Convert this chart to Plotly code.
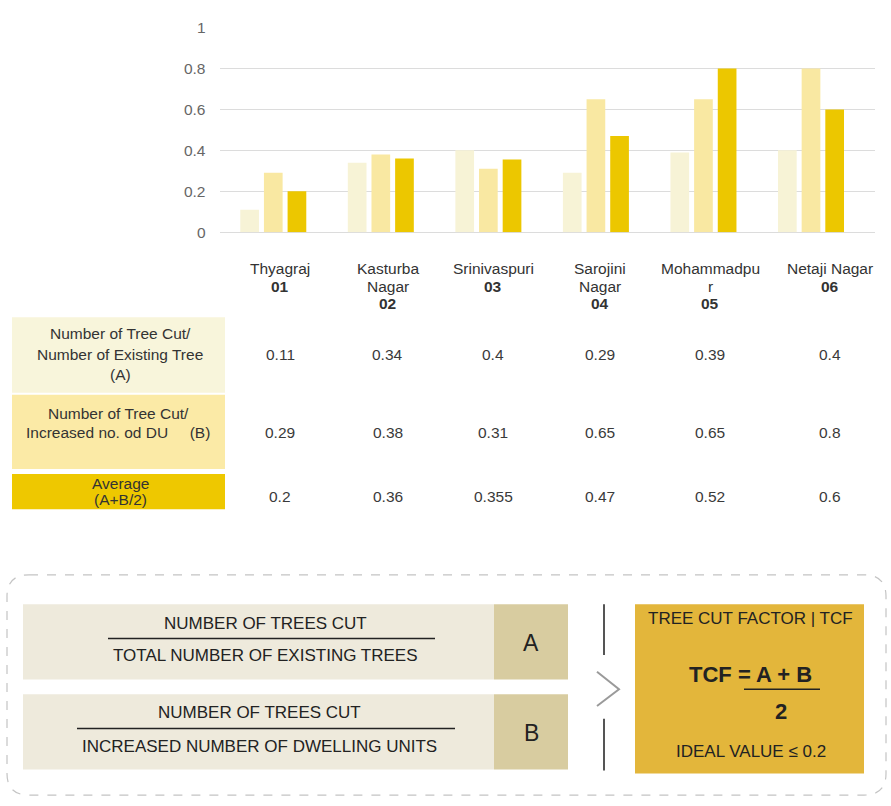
import plotly.graph_objects as go

W, H = 891, 806

# ---------------- data ----------------
categories = ["Thyagraj", "Kasturba Nagar", "Srinivaspuri", "Sarojini Nagar", "Mohammadpur", "Netaji Nagar"]
label_lines = [["Thyagraj"], ["Kasturba", "Nagar"], ["Srinivaspuri"], ["Sarojini", "Nagar"],
               ["Mohammadpu", "r"], ["Netaji Nagar"]]
codes = ["01", "02", "03", "04", "05", "06"]
ratio_a = [0.11, 0.34, 0.40, 0.29, 0.39, 0.40]          # trees cut / existing trees
ratio_b = [0.29, 0.38, 0.31, 0.65, 0.65, 0.80]          # trees cut / increased DU
average_table = [0.2, 0.36, 0.355, 0.47, 0.52, 0.6]     # values printed in table
average_bar = [0.2, 0.36, 0.355, 0.47, 0.8, 0.6]        # heights drawn in chart
y_ticks = [0, 0.2, 0.4, 0.6, 0.8, 1]
y_tick_text = ["0", "0.2", "0.4", "0.6", "0.8", "1"]

row_labels = [
    ["Number of Tree Cut/", "Number of Existing Tree", "(A)"],
    ["Number of Tree Cut/", "Increased no. od DU\u00a0\u00a0\u00a0\u00a0\u00a0(B)"],
    ["Average", "(A+B/2)"],
]

# ---------------- styles ----------------
FONT = "Liberation Sans, Arial, sans-serif"
C_A = "#F7F3D6"
C_B = "#F9E8A2"
C_AVG = "#ECC700"
BOX_A = "#F8F5DB"
BOX_B = "#FBEAA6"
BOX_AVG = "#EEC800"
TXT = "#333333"
col_shift = [7, 7, 5, 4, 7, 19]


def px(x):
    return x / W


def py(y):
    return 1 - y / H


fig = go.Figure()
for name, vals, col in [("A", ratio_a, C_A), ("B", ratio_b, C_B), ("Average", average_bar, C_AVG)]:
    fig.add_trace(go.Bar(x=categories, y=vals, name=name, marker=dict(color=col, line=dict(width=0)),
                         hoverinfo="x+y"))

shapes = []
annotations = []


def text(x, y, s, size=16, color=TXT, xanchor="center", xref="paper", xshift=0, bold=False):
    annotations.append(dict(
        x=x if xref != "paper" else px(x), y=py(y), xref=xref, yref="paper",
        text=f"<b>{s}</b>" if bold else s, showarrow=False, xanchor=xanchor, yanchor="middle",
        xshift=xshift, font=dict(family=FONT, size=size, color=color)))


def rect(x0, y0, x1, y1, fill, line=None):
    shapes.append(dict(type="rect", xref="paper", yref="paper", x0=px(x0), x1=px(x1), y0=py(y1), y1=py(y0),
                       fillcolor=fill, line=dict(width=0) if line is None else line, layer="below"))


def seg(x0, y0, x1, y1, color, width):
    shapes.append(dict(type="line", xref="paper", yref="paper", x0=px(x0), x1=px(x1), y0=py(y0), y1=py(y1),
                       line=dict(color=color, width=width)))


# category labels under chart
for i, (lines, code) in enumerate(zip(label_lines, codes)):
    for j, ln in enumerate(lines):
        text(categories[i], 265 + 18 * j, ln, size=15.5, xref="x", xshift=col_shift[i])
    text(categories[i], 265 + 18 * len(lines), code, size=15.5, xref="x", xshift=col_shift[i], bold=True)

# table label boxes
rect(12, 315, 225, 392, BOX_A)
rect(12, 394, 225, 470, BOX_B)
rect(12, 475, 225, 511, BOX_AVG)
for ln, yy in zip(row_labels[0], [332, 353, 373]):
    text(120, yy, ln, size=15.5)
for ln, yy in zip(row_labels[1], [413, 433]):
    text(118, yy, ln, size=15.5)
for ln, yy in zip(row_labels[2], [485, 501]):
    text(120, yy, ln, size=15.5)

# table values
for row, yy in [(ratio_a, 353), (ratio_b, 433), (average_table, 498)]:
    for i, v in enumerate(row):
        text(categories[i], yy, f"{v:g}", size=15.5, color="#3A3A3A", xref="x", xshift=col_shift[i])

# ---------------- bottom formula panel ----------------
x0, x1, y0, y1, r = 7, 886, 578, 803, 22
path = (f"M {px(x0 + r)} {py(y0)} L {px(x1 - r)} {py(y0)} Q {px(x1)} {py(y0)} {px(x1)} {py(y0 + r)} "
        f"L {px(x1)} {py(y1 - r)} Q {px(x1)} {py(y1)} {px(x1 - r)} {py(y1)} "
        f"L {px(x0 + r)} {py(y1)} Q {px(x0)} {py(y1)} {px(x0)} {py(y1 - r)} "
        f"L {px(x0)} {py(y0 + r)} Q {px(x0)} {py(y0)} {px(x0 + r)} {py(y0)} Z")
shapes.append(dict(type="path", xref="paper", yref="paper", path=path,
                   line=dict(color="#C4C4C4", width=1.2, dash="dash")))

rect(23, 608, 494, 685, "#EEEADC")
rect(494, 608, 568, 685, "#D8CCA0")
rect(23, 700, 494, 777, "#EEEADC")
rect(494, 700, 568, 777, "#D8CCA0")
seg(108, 643, 435, 643, "#222222", 1.5)
seg(77, 735, 455, 735, "#222222", 1.5)
seg(604, 608, 604, 660, "#555555", 2)
seg(604, 725, 604, 778, "#555555", 2)
shapes.append(dict(type="path", xref="paper", yref="paper",
                   path=f"M {px(597)} {py(677)} L {px(619)} {py(695)} L {px(597)} {py(712)}",
                   line=dict(color="#9A9A9A", width=2)))
rect(635, 608, 864, 781, "#E3B63B")
seg(744, 695, 820, 695, "#222222", 1.5)

text(265, 628, "NUMBER OF TREES CUT", size=17, color="#222")
text(265, 660, "TOTAL NUMBER OF EXISTING TREES", size=17, color="#222")
text(259, 719, "NUMBER OF TREES CUT", size=17, color="#222")
text(259, 753, "INCREASED NUMBER OF DWELLING UNITS", size=17, color="#222")
text(531, 648, "A", size=23, color="#222")
text(531, 740, "B", size=23, color="#222")
text(750, 623, "TREE CUT FACTOR | TCF", size=17, color="#222")
text(750, 680, "TCF = A + B", size=22, color="#222", bold=True)
text(781, 718, "2", size=22, color="#222", bold=True)
text(751, 759, "IDEAL VALUE \u2264 0.2", size=17, color="#222")

fig.update_layout(
    width=W, height=H, margin=dict(l=0, r=0, t=0, b=0),
    paper_bgcolor="white", plot_bgcolor="white", showlegend=False,
    barmode="group", bargap=0.34, bargroupgap=0.21,
    font=dict(family=FONT, color=TXT),
    xaxis=dict(domain=[px(219.5), px(875)], showticklabels=False, showgrid=False, zeroline=False,
               showline=False, ticks=""),
    yaxis=dict(domain=[py(228), py(19)], range=[0, 1], tickvals=y_ticks, ticktext=y_tick_text,
               showgrid=True, gridcolor="#DCDCDC", gridwidth=1, zeroline=True, zerolinecolor="#DCDCDC",
               zerolinewidth=1, showline=False, ticks="", ticklabelstandoff=13,
               tickfont=dict(family=FONT, size=15.5, color="#666666")),
    shapes=shapes, annotations=annotations,
)

fig.write_html("out.html")
